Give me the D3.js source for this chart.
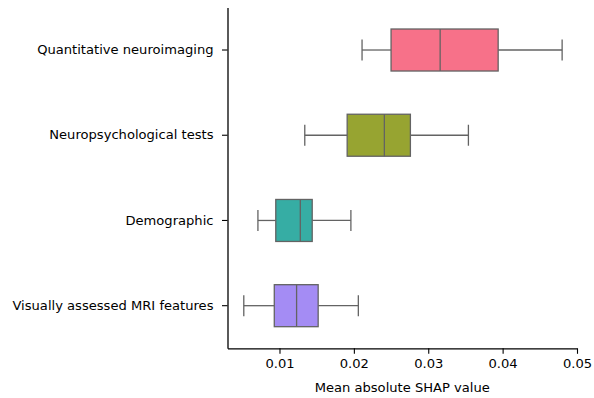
<!DOCTYPE html>
<html><head><meta charset="utf-8">
<script src="https://cdn.jsdelivr.net/npm/d3@7"></script>
<style>body{margin:0;background:#fff;} text{font-family:"DejaVu Sans",sans-serif;}</style>
</head><body>
<svg id="c" width="594" height="398"></svg>
<script>
const categories = ["Quantitative neuroimaging","Neuropsychological tests","Demographic","Visually assessed MRI features"];
const whiskerLow  = [0.0211, 0.0134, 0.0071, 0.0052];
const q1          = [0.0250, 0.0191, 0.0095, 0.0093];
const median      = [0.0316, 0.0241, 0.0128, 0.0123];
const q3          = [0.0394, 0.0276, 0.0144, 0.0152];
const whiskerHigh = [0.0480, 0.0354, 0.0196, 0.0206];
const colors = ["#f77189","#97a431","#36ada4","#a48cf4"];
const xTicks = [0.01,0.02,0.03,0.04,0.05];

const svg = d3.select("#c");
const x = d3.scaleLinear().domain([0.00301, 0.05]).range([227.5, 577]);
const y = d3.scaleBand().domain(categories).range([7.4, 348.3]).padding(0);
const boxH = 42;
const edge = "#636363";
const fs = "13.1px";

categories.forEach((c,i)=>{
  const cy = y(c) + y.bandwidth()/2;
  const g = svg.append("g");
  g.append("line").attr("x1",x(whiskerLow[i])).attr("x2",x(q1[i])).attr("y1",cy).attr("y2",cy).attr("stroke",edge).attr("stroke-width",1.3);
  g.append("line").attr("x1",x(q3[i])).attr("x2",x(whiskerHigh[i])).attr("y1",cy).attr("y2",cy).attr("stroke",edge).attr("stroke-width",1.3);
  [whiskerLow[i], whiskerHigh[i]].forEach(v=>{
    g.append("line").attr("x1",x(v)).attr("x2",x(v)).attr("y1",cy-boxH/4).attr("y2",cy+boxH/4).attr("stroke",edge).attr("stroke-width",1.3);
  });
  g.append("rect").attr("x",x(q1[i])).attr("y",cy-boxH/2).attr("width",x(q3[i])-x(q1[i])).attr("height",boxH)
    .attr("fill",colors[i]).attr("stroke",edge).attr("stroke-width",1.3);
  g.append("line").attr("x1",x(median[i])).attr("x2",x(median[i])).attr("y1",cy-boxH/2).attr("y2",cy+boxH/2).attr("stroke",edge).attr("stroke-width",1.3);
});

const xAxis = svg.append("g").attr("transform","translate(0,348.3)")
  .call(d3.axisBottom(x).tickValues(xTicks).tickFormat(d3.format(".2f")).tickSize(5.5).tickPadding(5).tickSizeOuter(0));
xAxis.select(".domain").attr("stroke","#000").attr("stroke-width",1.3);
xAxis.selectAll(".tick line").attr("stroke","#000").attr("stroke-width",1.1);
xAxis.selectAll("text").attr("font-size",fs).attr("fill","#000").attr("font-family","DejaVu Sans");

const yAxis = svg.append("g").attr("transform","translate(227.5,0)")
  .call(d3.axisLeft(y).tickSize(5.5).tickPadding(8.5).tickSizeOuter(0));
yAxis.select(".domain").attr("stroke","#000").attr("stroke-width",1.3);
yAxis.selectAll(".tick line").attr("stroke","#000").attr("stroke-width",1.1);
yAxis.selectAll("text").attr("font-size",fs).attr("fill","#000").attr("font-family","DejaVu Sans");

svg.append("text").attr("x",(227.5+577)/2).attr("y",392).attr("text-anchor","middle")
  .attr("font-size",fs).attr("fill","#000").text("Mean absolute SHAP value");
</script>
</body></html>
